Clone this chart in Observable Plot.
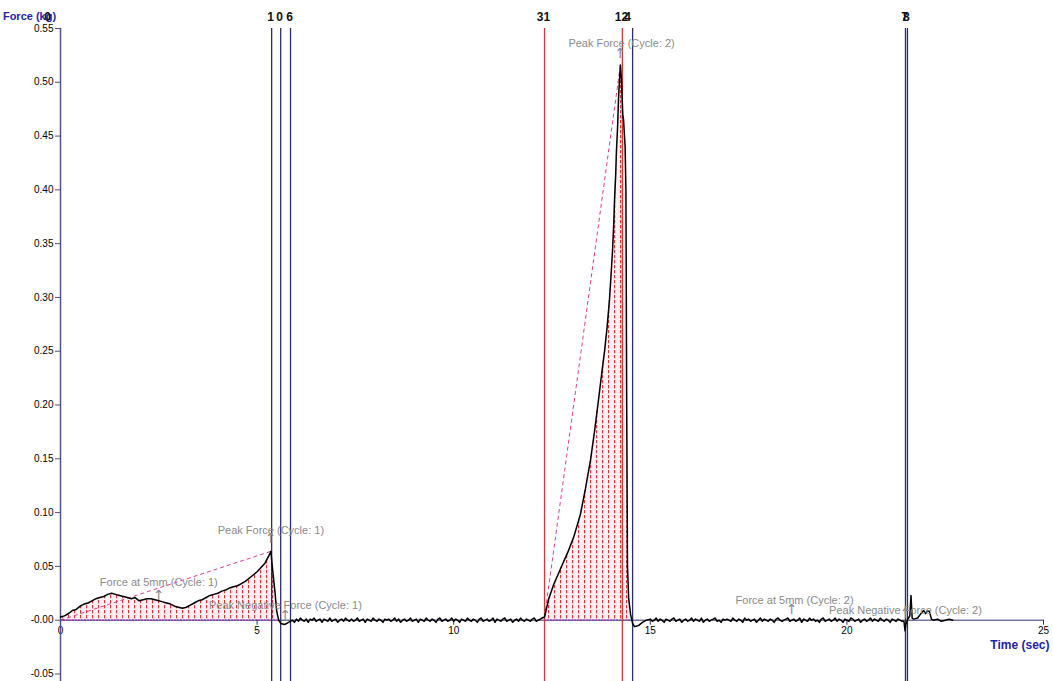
<!DOCTYPE html>
<html>
<head>
<meta charset="utf-8">
<script src="https://cdn.jsdelivr.net/npm/d3@7"></script>
<script src="https://cdn.jsdelivr.net/npm/@observablehq/plot@0.6"></script>
<style>
  html, body { margin: 0; padding: 0; background: #fff; }
  #chart { width: 1053px; height: 681px; overflow: hidden; }
</style>
</head>
<body>
<div id="chart"></div>
<script>
// ---------- data ----------
const xTicks = [0, 5, 10, 15, 20, 25];
const xTickLabels = ["0", "5", "10", "15", "20", "25"];
const yTicks = [0.55, 0.5, 0.45, 0.4, 0.35, 0.3, 0.25, 0.2, 0.15, 0.1, 0.05, 0, -0.05];
const yTickLabels = ["0.55", "0.50", "0.45", "0.40", "0.35", "0.30", "0.25", "0.20", "0.15", "0.10", "0.05", "-0.00", "-0.05"];

// cycle 1 (compression 1)
const c1T = [0, 0.1, 0.2, 0.3, 0.4, 0.5, 0.6, 0.7, 0.8, 0.9, 1.0, 1.1, 1.2, 1.3, 1.4, 1.5, 1.6, 1.7, 1.8, 1.9,
  2.0, 2.1, 2.2, 2.3, 2.4, 2.5, 2.6, 2.7, 2.8, 2.9, 3.0, 3.1, 3.2, 3.3, 3.4, 3.5, 3.6, 3.7, 3.8, 3.9,
  4.0, 4.1, 4.2, 4.3, 4.4, 4.5, 4.6, 4.7, 4.8, 4.9, 5.0, 5.1, 5.2, 5.3, 5.35, 5.4, 5.45, 5.5, 5.55, 5.6, 5.7, 5.8];
const c1F = [0.003, 0.004, 0.006, 0.009, 0.010, 0.013, 0.015, 0.016, 0.018, 0.020, 0.021, 0.022, 0.024, 0.025, 0.024, 0.023, 0.022, 0.021, 0.020, 0.021,
  0.018, 0.019, 0.020, 0.020, 0.019, 0.018, 0.017, 0.016, 0.015, 0.013, 0.012, 0.011, 0.012, 0.014, 0.016, 0.018, 0.019, 0.021, 0.023, 0.024,
  0.025, 0.027, 0.028, 0.030, 0.031, 0.032, 0.034, 0.036, 0.039, 0.042, 0.045, 0.049, 0.053, 0.060, 0.064, 0.045, 0.028, 0.008, 0.000, -0.003, -0.004, -0.002];

// baseline between cycles (sampled every 0.05 s from 5.9 s)
const restAStart = 5.9;
const restAF = [0.000, -0.002, 0.001, -0.001, 0.002, 0.000, -0.001, 0.001, -0.002, 0.001,
  0.000, 0.002, -0.001, 0.000, 0.001, -0.002, 0.001, 0.000, -0.001, 0.002,
  -0.001, 0.000, 0.001, -0.002, 0.000, 0.001, -0.001, 0.002, 0.000, -0.001,
  0.001, -0.001, 0.000, 0.002, -0.001, 0.000, 0.001, -0.002, 0.001, 0.000,
  -0.001, 0.002, 0.000, -0.001, 0.001, 0.000, -0.002, 0.001, 0.000, 0.001,
  -0.001, 0.000, 0.002, -0.001, 0.001, -0.002, 0.000, 0.001, -0.001, 0.000,
  0.002, -0.001, 0.000, 0.001, -0.002, 0.001, 0.000, -0.001, 0.002, 0.000,
  -0.001, 0.001, 0.000, -0.002, 0.001, 0.002, -0.001, 0.000, 0.001, -0.001,
  0.000, 0.002, -0.001, 0.001, 0.000, -0.002, 0.001, 0.000, -0.001, 0.002,
  0.000, -0.001, 0.001, 0.000, -0.002, 0.001, 0.002, -0.001, 0.000, 0.001,
  -0.001, 0.000, 0.002, -0.002, 0.001, 0.000, -0.001, 0.001, 0.002, -0.001,
  0.000, 0.001, -0.002, 0.000, 0.001, -0.001, 0.002, 0.000, -0.001, 0.001,
  0.000, -0.001, 0.001, 0.002, -0.001, 0.000, 0.001, 0.002];

// cycle 2 (compression 2)
const c2T = [12.31, 12.33, 12.41, 12.54, 12.72, 12.9, 13.05, 13.22, 13.35, 13.48, 13.58, 13.68, 13.76, 13.84, 13.9, 13.96,
  14.0, 14.04, 14.07, 14.09, 14.12, 14.14, 14.17, 14.19, 14.22, 14.24, 14.27, 14.3, 14.32, 14.36, 14.38, 14.4, 14.42, 14.45, 14.5,
  14.55, 14.6, 14.7, 14.8, 14.9];
const c2F = [0.003, 0.006, 0.019, 0.033, 0.048, 0.063, 0.077, 0.098, 0.122, 0.149, 0.175, 0.204, 0.228, 0.251, 0.272, 0.297,
  0.320, 0.344, 0.368, 0.390, 0.414, 0.437, 0.460, 0.483, 0.505, 0.516, 0.500, 0.470, 0.465, 0.440, 0.400, 0.200, 0.050, 0.020, 0.005,
  -0.003, -0.006, -0.005, -0.002, 0.000];

// baseline after cycle 2 (sampled every 0.05 s from 15.0 s)
const restBStart = 15.0;
const restBF = [0.001, -0.001, 0.000, 0.002, -0.001, 0.001, 0.000, -0.002, 0.001, 0.000,
  -0.001, 0.001, 0.002, -0.001, 0.000, 0.001, -0.002, 0.000, 0.001, -0.001,
  0.000, 0.002, -0.001, 0.001, 0.000, -0.001, 0.002, -0.002, 0.000, 0.001,
  -0.001, 0.000, 0.001, 0.002, -0.001, 0.000, -0.002, 0.001, 0.000, 0.001,
  0.000, -0.001, 0.002, 0.000, -0.001, 0.001, 0.000, -0.002, 0.002, 0.000,
  0.001, -0.001, 0.000, 0.001, -0.002, 0.000, 0.002, -0.001, 0.001, 0.000,
  -0.001, 0.001, 0.000, -0.002, 0.001, 0.002, 0.000, -0.001, 0.000, 0.001,
  0.002, -0.001, 0.000, 0.001, -0.001, 0.000, 0.002, -0.002, 0.001, 0.000,
  -0.001, 0.002, 0.000, 0.001, -0.001, 0.000, -0.002, 0.001, 0.002, -0.001,
  0.000, 0.001, -0.001, 0.000, 0.002, -0.001, 0.001, 0.000, -0.002, 0.001,
  0.000, -0.001, 0.002, 0.001, -0.001, 0.000, 0.001, -0.002, 0.000, 0.001,
  -0.001, 0.000, 0.002, -0.001, 0.001, 0.000, -0.001, 0.002, 0.000, -0.001,
  0.001, 0.000, -0.002, 0.001, 0.000, -0.001, 0.001, 0.000, -0.001];

// disturbance at the end
const tailT = [21.45, 21.48, 21.5, 21.55, 21.6, 21.63, 21.66, 21.7, 21.8, 21.9, 21.95, 22.0, 22.05, 22.1, 22.15, 22.2, 22.3, 22.4, 22.5, 22.6, 22.69];
const tailF = [-0.001, -0.010, -0.004, 0.001, 0.004, 0.023, 0.002, 0.001, 0.002, 0.007, 0.009, 0.006, 0.009, 0.008, 0.001, 0.000, 0.001, -0.001, 0.000, 0.001, 0.000];

// vertical markers
const markerT = [5.37, 5.60, 5.85, 12.31, 14.29, 14.55, 21.49, 21.54];
const markerColor = ["blue", "blue", "blue", "red", "red", "blue", "blue", "blue"];
const markerLabels = ["1", "0", "6", "31", "12", "4", "7", "8"];
const originLabel = "0";

// gradient (dashed) lines: start and peak of each cycle
const gradStartT = [0, 12.31];
const gradStartF = [0.0, 0.003];
const gradPeakT = [5.35, 14.24];
const gradPeakF = [0.064, 0.516];

// hatched area ranges
const areaStart = [0, 12.31];
const areaEnd = [5.55, 14.5];

// annotations
const annLabels = ["Peak Force (Cycle: 1)", "Force at 5mm (Cycle: 1)", "Peak Negative Force (Cycle: 1)",
  "Peak Force (Cycle: 2)", "Force at 5mm (Cycle: 2)", "Peak Negative Force (Cycle: 2)"];
const annT = [5.35, 2.5, 5.72, 14.27, 18.67, 21.49];
const annF = [0.0836, 0.0353, 0.0139, 0.536, 0.0186, 0.0093];
const arrowT = [5.35, 2.5, 5.72, 14.24, 18.6, 21.49];
const arrowF = [0.0762, 0.0232, 0.0046, 0.527, 0.0102, 0.0065];

// ---------- build tables ----------
const c1 = c1T.map((t, i) => ({t, f: c1F[i]}));
const restA = restAF.map((f, i) => ({t: +(restAStart + i * 0.05).toFixed(3), f}));
const c2 = c2T.map((t, i) => ({t, f: c2F[i]}));
const restB = restBF.map((f, i) => ({t: +(restBStart + i * 0.05).toFixed(3), f}));
const tail = tailT.map((t, i) => ({t, f: tailF[i]}));
const curve = [...c1, ...restA, ...c2, ...restB, ...tail];
const area1 = c1.filter(d => d.t <= areaEnd[0]);
const area2 = c2.filter(d => d.t <= areaEnd[1]);
const grads = gradStartT.map((t, i) => ({x1: t, y1: gradStartF[i], x2: gradPeakT[i], y2: gradPeakF[i]}));
const bases = areaStart.map((s, i) => ({x1: s, x2: areaEnd[i]}));
const markers = markerT.map((t, i) => ({t, c: markerColor[i], label: markerLabels[i]}));
const anns = annLabels.map((label, i) => ({label, t: annT[i], f: annF[i]}));
const arrows = arrowT.map((t, i) => ({t, f: arrowF[i]}));
const yLab = new Map(yTicks.map((v, i) => [v, yTickLabels[i]]));
const xTab = xTicks.map((v, i) => ({v, label: xTickLabels[i]}));

const BLUE = "#2e2e6e", RED = "#cc3b3b", GRAY = "#8a8a8a", TITLE = "#2323a8";

const chart = Plot.plot({
  width: 1053,
  height: 681,
  marginLeft: 60,
  marginRight: 10,
  marginTop: 28,
  marginBottom: 0,
  style: {fontFamily: "'Liberation Sans', Arial, sans-serif", background: "#fff", overflow: "visible"},
  x: {domain: [0, 25], axis: null},
  y: {domain: [-0.057, 0.55], axis: null},
  marks: [
    // hatched areas
    Plot.areaY(area1, {x: "t", y: "f", fill: "url(#hatch)"}),
    Plot.areaY(area2, {x: "t", y: "f", fill: "url(#hatch)"}),
    // gradient dashed lines
    Plot.link(grads, {x1: "x1", y1: "y1", x2: "x2", y2: "y2", stroke: "#d8408f", strokeWidth: 1, strokeDasharray: "4,3"}),
    // x axis line
    Plot.ruleY([0], {x1: 0, x2: 25, stroke: BLUE, strokeWidth: 1}),
    // purple baselines under areas
    Plot.ruleY(bases, {y: 0, x1: "x1", x2: "x2", stroke: "#9b3fae", strokeWidth: 1.5, strokeDasharray: "2,1"}),
    // x ticks and labels
    Plot.ruleX(xTab, {x: "v", y1: 0, y2: 0, insetBottom: -5, stroke: BLUE}),
    Plot.text(xTab, {x: "v", y: 0, text: "label", dy: 11, fontSize: 10, fill: "#000"}),
    // y axis
    Plot.ruleX([0], {stroke: "#50508a", strokeWidth: 1.5}),
    Plot.axisY(yTicks, {tickSize: 5, tickPadding: 2, fontSize: 10, stroke: "#50508a", color: "#000", tickFormat: d => yLab.get(d)}),
    // marker lines
    Plot.ruleX(markers, {x: "t", stroke: d => d.c === "red" ? RED : BLUE, strokeWidth: 1.3}),
    // force curve
    Plot.line(curve, {x: "t", y: "f", stroke: "#000", strokeWidth: 1.5}),
    // annotations
    Plot.text(anns, {x: "t", y: "f", text: "label", fill: GRAY, fontSize: 11}),
    Plot.text(arrows, {x: "t", y: "f", text: () => "\u2191", fill: GRAY, fontSize: 14, fontFamily: "DejaVu Sans"}),
    // axis titles
    Plot.text(["Force (kg)"], {x: 0, frameAnchor: "top", dx: -31, dy: -16, fontSize: 11, fontWeight: "bold", fill: TITLE}),
    Plot.text(["Time (sec)"], {x: 25, y: 0, textAnchor: "end", dx: 6, dy: 25, fontSize: 12, fontWeight: "bold", fill: TITLE}),
    // marker labels
    Plot.text(markers.filter(d => d.label !== "4"), {x: "t", frameAnchor: "top", text: "label", dx: -1, dy: -16, fontSize: 12, fontWeight: "bold", fill: "#111"}),
    Plot.text(markers.filter(d => d.label === "4"), {x: "t", frameAnchor: "top", text: "label", dx: -5, dy: -16, fontSize: 12, fontWeight: "bold", fill: "#111"}),
    Plot.text([originLabel], {x: 0, frameAnchor: "top", dx: -13, dy: -16, fontSize: 12, fontWeight: "bold", fill: "#111"})
  ]
});

// pattern for the hatched fill
const defs = d3.select(chart).insert("defs", ":first-child");
const pat = defs.append("pattern").attr("id", "hatch").attr("patternUnits", "userSpaceOnUse")
  .attr("width", 6).attr("height", 5);
pat.append("rect").attr("width", 6).attr("height", 5).attr("fill", "#fdf0f3");
pat.append("rect").attr("x", 2).attr("y", 0).attr("width", 1.2).attr("height", 3.3).attr("fill", "#d23a3a");

document.getElementById("chart").appendChild(chart);
</script>
</body>
</html>
